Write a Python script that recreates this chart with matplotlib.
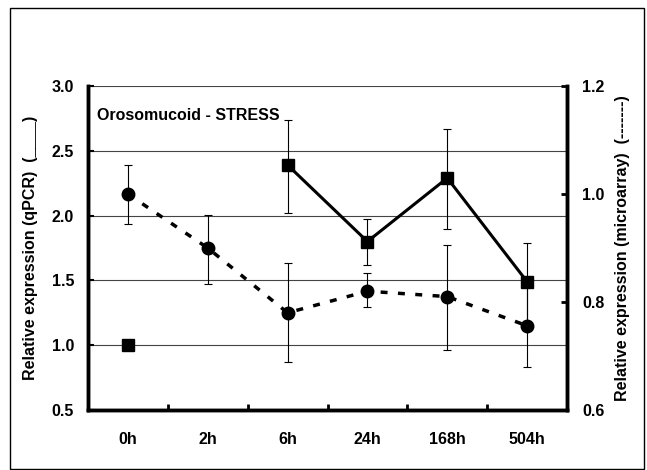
import numpy as np
import matplotlib.pyplot as plt
from matplotlib.patches import Rectangle

plt.rcParams['font.family'] = ['Liberation Sans', 'DejaVu Sans']
plt.rcParams['font.weight'] = 'bold'

# data
times = ['0h', '2h', '6h', '24h', '168h', '504h']
qpcr = [1.0, np.nan, 2.39, 1.80, 2.29, 1.49]
qpcr_lo = [np.nan, np.nan, 2.02, 1.62, 1.90, 1.19]
qpcr_hi = [np.nan, np.nan, 2.74, 1.97, 2.67, 1.79]
micro = [1.00, 0.90, 0.78, 0.82, 0.81, 0.756]
micro_lo = [0.944, 0.833, 0.688, 0.790, 0.711, 0.68]
micro_hi = [1.054, 0.961, 0.872, 0.853, 0.906, 0.83]

x = np.arange(len(times))
qpcr = np.array(qpcr)
micro = np.array(micro)
fs = 11.5

fig = plt.figure(figsize=(6.47, 4.70), dpi=100)
fig.patches.append(Rectangle((10/647, 1/470), 634/647, 461/470, transform=fig.transFigure,
                             fill=False, edgecolor='black', lw=1))
ax = fig.add_axes([88/647, 60/470, 479/647, 324/470])
ax2 = ax.twinx()

# qPCR (solid line, squares)
ax.errorbar(x, qpcr, yerr=[qpcr - np.array(qpcr_lo), np.array(qpcr_hi) - qpcr],
            fmt='none', ecolor='black', elinewidth=0.8, capsize=3, capthick=0.8)
ax.plot(x, qpcr, '-s', color='black', lw=2.2, markersize=8.5)

# microarray (dashed line, circles)
ax2.errorbar(x, micro, yerr=[micro - np.array(micro_lo), np.array(micro_hi) - micro],
             fmt='none', ecolor='black', elinewidth=0.8, capsize=3, capthick=0.8)
ax2.plot(x, micro, linestyle=(0, (2, 3)), marker='o', color='black', lw=2.5, markersize=9)

ax.set_xlim(-0.5, 5.5)
ax.set_ylim(0.5, 3.0)
ax.set_yticks(np.arange(0.5, 3.01, 0.5))
ax.set_yticklabels(['%.1f' % v for v in np.arange(0.5, 3.01, 0.5)])
ax.grid(axis='y', color='#444444', lw=0.8)
ax.set_axisbelow(True)
ax.set_xticks(x)
ax.set_xticklabels(times)
ax.set_xticks(np.arange(0.5, 5, 1), minor=True)
ax.tick_params(axis='x', which='major', length=0, pad=16, labelsize=fs)
ax.tick_params(axis='x', which='minor', direction='in', length=4, width=2)
ax.tick_params(axis='y', direction='in', length=4, width=1.5, pad=10, labelsize=fs)

ax2.set_ylim(0.6, 1.2)
ax2.set_yticks([0.6, 0.8, 1.0, 1.2])
ax2.set_yticklabels(['0.6', '0.8', '1.0', '1.2'])
ax2.tick_params(axis='y', direction='in', length=4, width=2, pad=11, labelsize=fs)

for a in (ax, ax2):
    a.spines['top'].set_visible(False)
    for s in ('left', 'bottom', 'right'):
        a.spines[s].set_linewidth(2.5)

ax.set_ylabel('Relative expression (qPCR)  (____)', fontsize=fs, fontweight='bold')
ax.yaxis.set_label_coords(-50/479, 0.5)
ax2.set_ylabel('Relative expression (microarray)  (-------)', fontsize=fs, fontweight='bold')
ax2.yaxis.set_label_coords(1 + 48/479, 0.5)

ax.text(0.019, 0.91, 'Orosomucoid - STRESS', transform=ax.transAxes,
        fontsize=fs, fontweight='bold', va='center', ha='left')

plt.savefig('out.png', dpi=100)
